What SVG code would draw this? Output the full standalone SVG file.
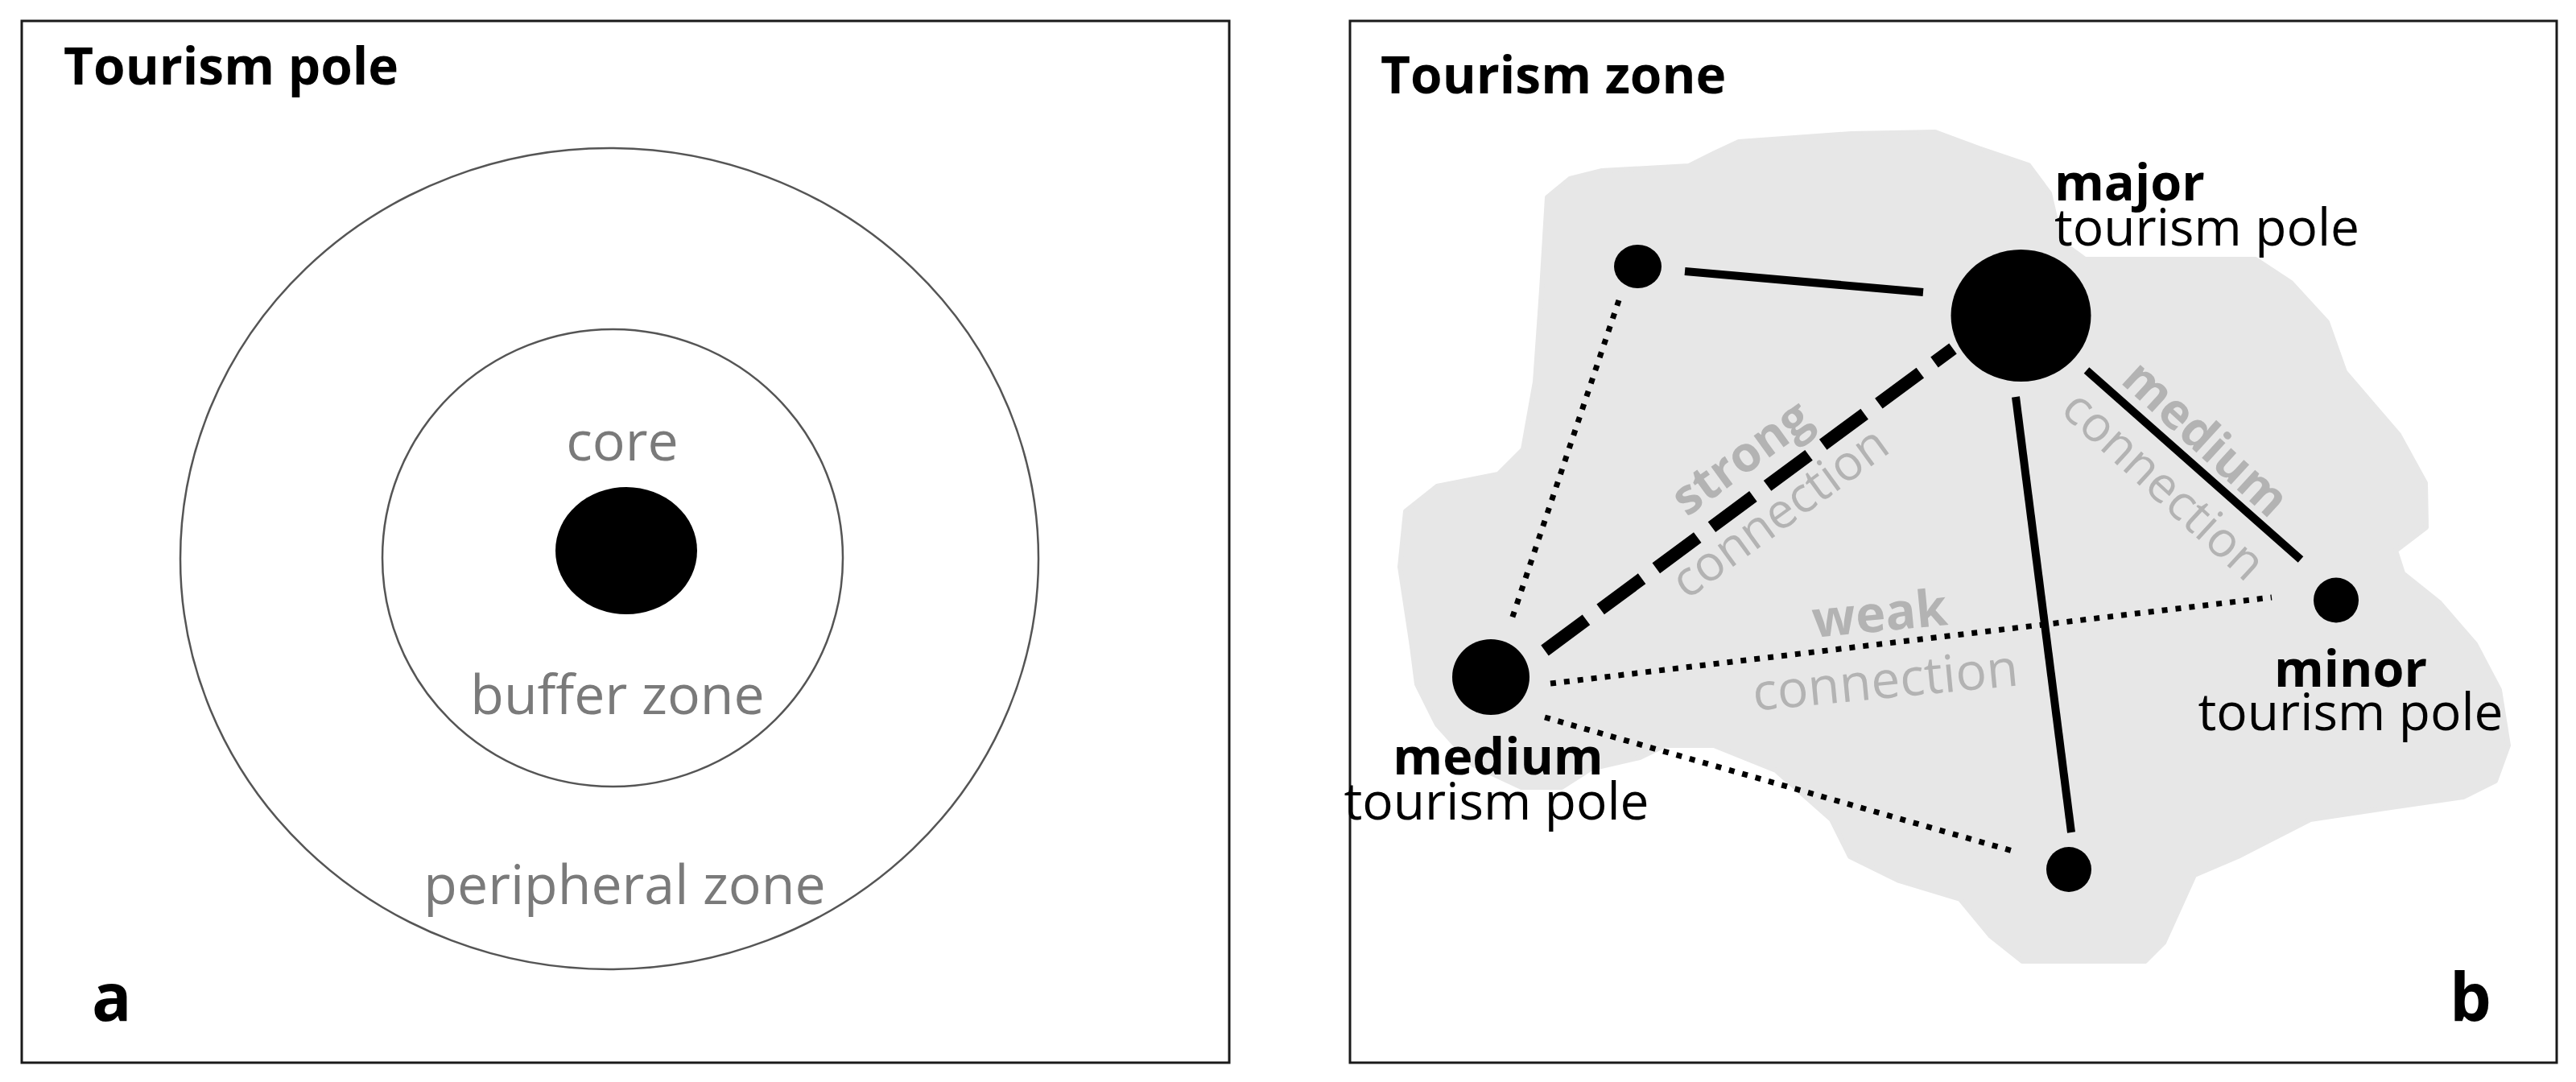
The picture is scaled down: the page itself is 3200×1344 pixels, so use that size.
<svg xmlns="http://www.w3.org/2000/svg" width="3200" height="1344" viewBox="0 0 3200 1344">
<style>
.frame{fill:none;stroke:#1a1a1a;stroke-width:3}
.ring{fill:none;stroke:#555;stroke-width:2.5}
.title{font-family:"Open Sans","Liberation Sans",sans-serif;font-weight:bold;font-size:64px;fill:#000}
.letter{font-family:"Open Sans","Liberation Sans",sans-serif;font-weight:bold;font-size:82px;fill:#000}
.zl{font-family:"Open Sans","Liberation Sans",sans-serif;font-size:68px;fill:#7a7a7a;text-anchor:middle}
.nb{font-family:"Open Sans","Liberation Sans",sans-serif;font-weight:bold;font-size:63px;fill:#000}
.nn{font-family:"Open Sans","Liberation Sans",sans-serif;font-size:64px;fill:#000}
.cb{font-family:"Open Sans","Liberation Sans",sans-serif;font-weight:bold;font-size:61px;fill:#b3b3b3;text-anchor:middle}
.cn{font-family:"Open Sans","Liberation Sans",sans-serif;font-size:61px;fill:#b3b3b3;text-anchor:middle}
.solid{stroke:#000;stroke-width:10;fill:none}
.dashed{stroke:#000;stroke-width:16;stroke-dasharray:64 22;fill:none}
.dotted{stroke:#000;stroke-width:7;stroke-dasharray:7 10;fill:none}
.pole{fill:#000}
</style>

<!-- Panel a -->
<g id="panel-a">
  <rect class="frame" x="27" y="26" width="1500" height="1294"/>
  <text class="title" x="79" y="105">Tourism pole</text>
  <text class="letter" x="114" y="1268">a</text>
</g>
<g id="peripheral-zone">
  <ellipse class="ring" cx="757" cy="694" rx="533" ry="510"/>
  <text class="zl" x="776" y="1123">peripheral zone</text>
</g>
<g id="buffer-zone">
  <ellipse class="ring" cx="761" cy="693" rx="286" ry="284"/>
  <text class="zl" x="767" y="887">buffer zone</text>
</g>
<g id="core">
  <ellipse class="pole" cx="778" cy="684" rx="88" ry="79"/>
  <text class="zl" x="773" y="572">core</text>
</g>

<!-- Panel b -->
<g id="panel-b">
  <rect class="frame" x="1677" y="26" width="1499" height="1294"/>
  <text class="title" x="1715" y="116">Tourism zone</text>
  <text class="letter" x="3043" y="1268">b</text>
</g>
<g id="tourism-zone-area">
  <path fill="#e7e7e7" stroke="#e7e7e7" stroke-width="6" stroke-linejoin="round" d="M1922,245 L1950,222 L1990,212 L2098,206 L2130,190 L2160,176 L2300,166 L2404,164 L2458,184 L2520,205 L2546,240 L2560,300 L2590,322 L2802,322 L2846,351 L2891,400 L2913,462 L2980,540 L3013,600 L3014,655 L2976,684 L2985,712 L3030,748 L3075,800 L3105,857 L3116,926 L3100,970 L3060,990 L2970,1003 L2870,1018 L2780,1064 L2726,1087 L2688,1171 L2665,1194 L2512,1194 L2473,1163 L2435,1117 L2359,1094 L2298,1064 L2275,1018 L2206,957 L2129,926 L2068,926 L2037,941 L1976,955 L1940,978 L1890,978 L1830,950 L1785,900 L1760,850 L1754,803 L1739,704 L1746,635 L1785,604 L1861,589 L1892,558 L1907,474 L1915,360 Z"/>
</g>

<g id="connectors">
  <line class="solid" x1="2093" y1="337" x2="2389" y2="363"/>
  <line class="dashed" x1="1919" y1="808" x2="2426" y2="433"/>
  <line class="solid" x1="2592" y1="460" x2="2858" y2="695"/>
  <line class="solid" x1="2504" y1="493" x2="2573" y2="1034"/>
  <line class="dotted" x1="2011" y1="373" x2="1877" y2="772"/>
  <line class="dotted" x1="1926" y1="849" x2="2822" y2="742"/>
  <line class="dotted" x1="1919" y1="891" x2="2500" y2="1057"/>
</g>

<g id="conn-labels">
  <g id="strong-label" transform="rotate(-36 2175 585)">
    <text class="cb" x="2175" y="585">strong</text>
  </g>
  <g id="strong-conn-label" transform="rotate(-36 2223 653)">
    <text class="cn" x="2223" y="653">connection</text>
  </g>
  <g id="medium-label" transform="rotate(42.5 2726 560)">
    <text class="cb" x="2726" y="560">medium</text>
  </g>
  <g id="medium-conn-label" transform="rotate(42.5 2674 618)">
    <text class="cn" x="2674" y="618">connection</text>
  </g>
  <g id="weak-label" transform="rotate(-5.5 2337 784)">
    <text class="cb" x="2337" y="784" style="font-size:63px">weak</text>
  </g>
  <g id="weak-conn-label" transform="rotate(-5.5 2344 867)">
    <text class="cn" x="2344" y="867" style="font-size:64px">connection</text>
  </g>
</g>

<g id="node-top-left">
  <ellipse class="pole" cx="2034.5" cy="331" rx="29.5" ry="27"/>
</g>
<g id="node-major">
  <ellipse class="pole" cx="2510.5" cy="392" rx="87" ry="82"/>
  <text class="nb" x="2552" y="249">major</text>
  <text class="nn" x="2552" y="305">tourism pole</text>
</g>
<g id="node-medium">
  <ellipse class="pole" cx="1852" cy="841" rx="48" ry="47"/>
  <text class="nb" x="1861" y="962" text-anchor="middle">medium</text>
  <text class="nn" x="1859" y="1018" text-anchor="middle">tourism pole</text>
</g>
<g id="node-minor">
  <ellipse class="pole" cx="2902" cy="745.5" rx="28" ry="28"/>
  <text class="nb" x="2920" y="853" text-anchor="middle">minor</text>
  <text class="nn" x="2920" y="907" text-anchor="middle">tourism pole</text>
</g>
<g id="node-bottom">
  <ellipse class="pole" cx="2570" cy="1080" rx="28" ry="28"/>
</g>
</svg>
